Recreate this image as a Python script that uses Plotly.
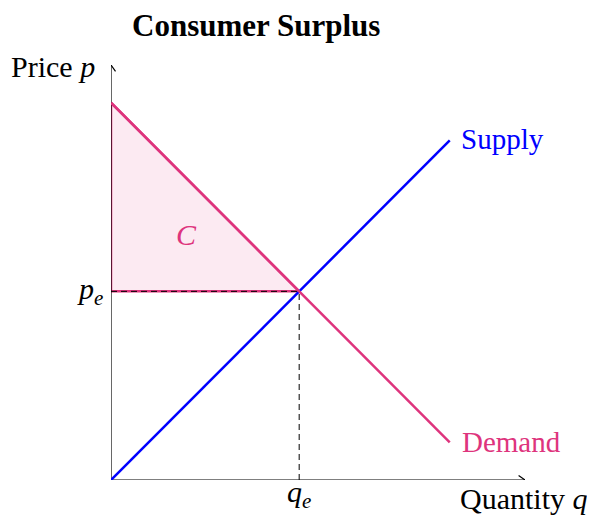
import plotly.graph_objects as go

# Data
quantity = [0, 9]
supply_price = [0, 9]
demand_price = [10, 1]
q_eq = 5
p_eq = 5
axis_max = 11

BLUE = "#0000FF"
PINK = "#DE347D"
FONT = "Liberation Serif"

fig = go.Figure()

# Consumer surplus triangle
fig.add_trace(go.Scatter(
    x=[0, 0, q_eq, 0], y=[p_eq, demand_price[0], p_eq, p_eq],
    mode="lines", fill="toself", fillcolor="rgba(222,52,125,0.10)",
    line=dict(color=PINK, width=2.5), hoverinfo="skip", showlegend=False))

# Dashed equilibrium lines
fig.add_trace(go.Scatter(x=[0, q_eq], y=[p_eq, p_eq], mode="lines",
                         line=dict(color="black", width=1, dash="6px,4px"),
                         hoverinfo="skip", showlegend=False))
fig.add_trace(go.Scatter(x=[q_eq, q_eq], y=[0, p_eq], mode="lines",
                         line=dict(color="black", width=1, dash="6px,4px"),
                         hoverinfo="skip", showlegend=False))

# Axes with arrows
ah = 0.17
aw = 0.12
fig.add_trace(go.Scatter(x=[0, axis_max, None, axis_max - ah, axis_max, axis_max - ah],
                         y=[0, 0, None, aw, 0, -aw], mode="lines",
                         line=dict(color="black", width=1.2), hoverinfo="skip", showlegend=False))
fig.add_trace(go.Scatter(x=[0, 0, None, -aw, 0, aw],
                         y=[0, axis_max, None, axis_max - ah, axis_max, axis_max - ah], mode="lines",
                         line=dict(color="black", width=1.2), hoverinfo="skip", showlegend=False))

# Supply and demand
fig.add_trace(go.Scatter(x=quantity, y=supply_price, mode="lines",
                         line=dict(color=BLUE, width=2.5), showlegend=False))
fig.add_trace(go.Scatter(x=quantity, y=demand_price, mode="lines",
                         line=dict(color=PINK, width=2.5), showlegend=False))


def label(text, x, y, xanchor, size, color, yanchor="middle"):
    return dict(text=text, xref="paper", yref="paper", x=x / axis_max, y=y / axis_max,
                xanchor=xanchor, yanchor=yanchor, showarrow=False,
                font=dict(size=size, color=color))


annotations = [
    label("<b>Consumer Surplus</b>", 3.85, 12.04, "center", 31, "black"),
    label("Price <i>p</i>", -0.37, axis_max - 0.05, "right", 30, "black"),
    label("Quantity <i>q</i>", 9.22, -0.98, "left", 30, "black", yanchor="bottom"),
    label("Supply", quantity[1] + 0.25, supply_price[1] + 0.05, "left", 29, BLUE),
    label("Demand", quantity[1] + 0.27, demand_price[1], "left", 29, PINK),
    label("<i>p<sub>e</sub></i>", -0.17, p_eq, "right", 30, "black"),
    label("<i>q<sub>e</sub></i>", q_eq, -0.36, "center", 30, "black"),
    label("<i>C</i>", 2.0, 6.5, "center", 30, PINK),
]

fig.update_layout(
    width=587, height=509,
    margin=dict(l=103, r=70, t=57, b=37),
    paper_bgcolor="white", plot_bgcolor="white",
    font=dict(family=FONT),
    xaxis=dict(range=[0, axis_max], visible=False, fixedrange=True),
    yaxis=dict(range=[0, axis_max], visible=False, fixedrange=True),
    annotations=annotations,
    showlegend=False,
)

fig.write_html("out.html")
